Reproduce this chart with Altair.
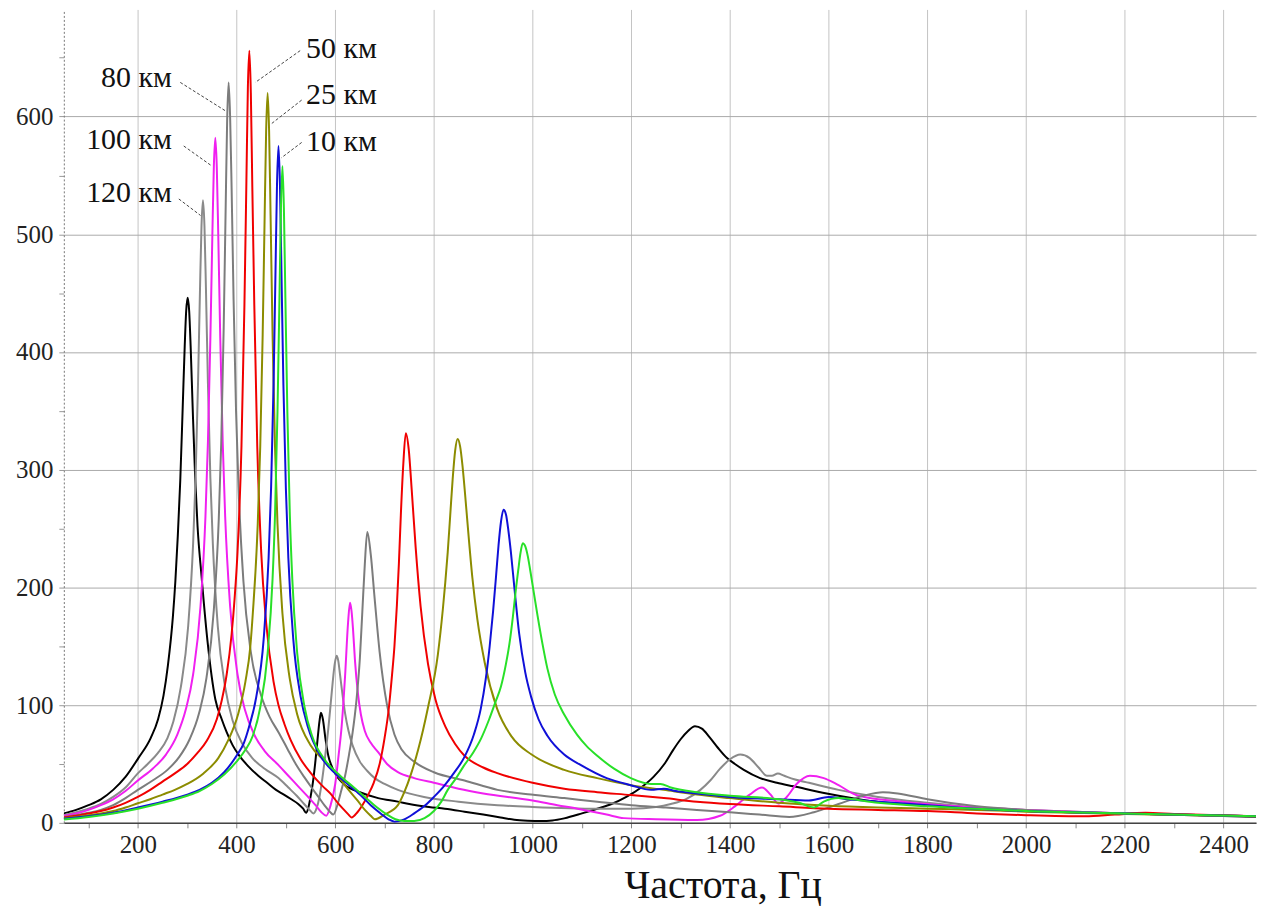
import altair as alt
import pandas as pd

# ---- curve data (frequency Hz, amplitude) ----
black = [(50, 8), (75, 11), (100, 15), (125, 20), (150, 28), (175, 39), (201, 55), (226, 72), (241, 88),
         (252, 108), (261, 134), (271, 175), (276, 205), (281, 244), (286, 291), (291, 354), (295, 405),
         (298, 435), (301, 446), (304, 435), (307, 405), (311, 354), (316, 295), (321, 252), (329, 210),
         (341, 155), (357, 105), (370, 88), (380, 77), (392, 66), (404, 58), (424, 48), (444, 40),
         (462, 34), (480, 28), (496, 24), (511, 20), (525, 16), (535, 12), (541, 8.6), (545, 12),
         (550, 22), (555, 35), (560, 53), (564, 70), (568, 86), (571, 93.5), (575, 88), (580, 72),
         (586, 57), (593, 48), (600, 42), (610, 36), (620, 32), (650, 26), (687, 21), (727, 18),
         (750, 16), (790, 13.5), (822, 12), (862, 9.5), (900, 7), (935, 4.5), (963, 2.6), (990, 1.8),
         (1017, 1.5), (1040, 2), (1064, 3.8), (1100, 8), (1131, 12), (1160, 16), (1190, 22), (1220, 30),
         (1245, 39), (1267, 50), (1285, 62), (1300, 71), (1315, 78), (1329, 82), (1343, 80), (1358, 73),
         (1375, 64), (1394, 55), (1410, 50), (1428, 45), (1461, 38), (1495, 34), (1529, 31), (1596, 25),
         (1697, 18), (1800, 15), (1899, 12), (2000, 10), (2200, 8), (2466, 5)]

gray_120 = [(50, 6.5), (75, 9), (100, 12), (125, 16), (150, 22), (175, 30), (200, 42), (220, 50), (240, 59),
            (260, 72), (272, 86), (287, 115), (302, 167), (312, 237), (317, 293), (322, 374), (326, 454),
            (329, 507), (332, 529), (335, 507), (338, 454), (342, 374), (347, 293), (352, 237), (362, 167),
            (377, 115), (392, 87), (412, 67), (432, 55), (457, 46), (485, 38), (505, 30), (522, 23),
            (537, 16), (548, 11), (556, 8), (562, 12), (568, 22), (574, 38), (580, 58), (586, 80),
            (591, 102), (595, 120), (599, 135), (603, 142), (606, 138), (610, 125), (615, 108), (620, 93),
            (627, 78), (635, 66), (650, 52), (665, 44), (680, 38), (700, 33), (727, 28), (780, 22),
            (850, 18), (929, 15), (1000, 13.5), (1131, 12), (1200, 12), (1250, 13.5), (1280, 16),
            (1310, 20), (1340, 28), (1360, 36), (1380, 46), (1400, 54), (1421, 58), (1440, 55), (1458, 47),
            (1475, 40), (1485, 40), (1497, 42), (1510, 40), (1530, 37), (1560, 34), (1620, 28), (1700, 22),
            (1800, 17), (1900, 13), (2000, 11), (2200, 8), (2466, 5.5)]

magenta_100 = [(50, 6), (75, 8), (100, 11), (125, 15), (150, 20), (175, 27), (200, 36), (230, 46), (257, 58),
               (280, 75), (297, 96), (312, 126), (327, 184), (337, 260), (342, 323), (347, 412), (351, 499),
               (354, 557), (357, 582), (360, 557), (363, 499), (367, 412), (372, 323), (377, 260), (387, 184),
               (402, 126), (417, 96), (437, 74), (457, 61), (485, 49), (505, 40), (525, 31), (545, 22),
               (560, 15), (572, 9), (582, 6), (590, 14), (600, 33), (607, 58), (613, 82), (620, 125),
               (626, 170), (630, 187), (633, 180), (636, 165), (640, 138), (646, 110), (652, 92), (660, 78),
               (672, 68), (687, 60), (705, 50), (727, 43), (760, 38), (800, 34), (850, 29), (900, 25),
               (1000, 19), (1050, 15), (1091, 12), (1150, 7), (1185, 4), (1250, 3), (1333, 2.4), (1380, 6),
               (1410, 14), (1440, 24), (1465, 30), (1482, 24), (1498, 16.5), (1515, 22), (1535, 33),
               (1562, 40), (1590, 38), (1620, 32), (1657, 23.5), (1750, 18), (1859, 14), (2000, 11),
               (2200, 8), (2466, 5.5)]

gray_80 = [(50, 5), (75, 6.5), (100, 8.5), (125, 11), (150, 15), (175, 21), (200, 28), (230, 36), (260, 45),
           (284, 56), (305, 71), (324, 93), (339, 123), (354, 181), (364, 258), (369, 323), (374, 421),
           (378, 523), (381, 597), (384, 629), (387, 600), (390, 540), (394, 445), (399, 350), (404, 285),
           (414, 205), (429, 145), (450, 108), (467, 90), (485, 77), (503, 63), (520, 50), (537, 39),
           (552, 30), (566, 22), (578, 15), (590, 9), (596, 7), (605, 16), (612, 27), (620, 40), (628, 58),
           (635, 76), (643, 104), (650, 140), (655, 180), (660, 220), (665, 247), (672, 228), (680, 190),
           (690, 145), (705, 100), (720, 75), (735, 62), (760, 52), (800, 43), (862, 36), (929, 28),
           (997, 24), (1064, 21), (1131, 18), (1200, 15), (1270, 13), (1333, 11), (1400, 9), (1460, 7),
           (1520, 5), (1570, 9), (1620, 16), (1670, 23), (1710, 26), (1740, 25), (1800, 20), (1900, 14),
           (2000, 11), (2200, 8), (2466, 5.5)]

red_50 = [(50, 4.5), (75, 6), (100, 8), (125, 10), (150, 13), (175, 17), (200, 22), (225, 28), (250, 35),
          (275, 42), (300, 50), (320, 59), (340, 70), (360, 88), (370, 104), (380, 126), (390, 160),
          (396, 190), (402, 230), (410, 320), (416, 440), (420, 545), (423, 625), (426, 656), (429, 620),
          (432, 540), (436, 440), (442, 320), (450, 230), (460, 170), (475, 120), (485, 100), (497, 84),
          (510, 70), (530, 54), (551, 42), (575, 31), (590, 25), (605, 17), (618, 11), (627, 7), (633, 4.5),
          (645, 9), (655, 15), (667, 24), (678, 34), (690, 50), (700, 72), (708, 95), (715, 125), (720, 150),
          (725, 185), (729, 220), (733, 262), (738, 305), (743, 331), (749, 317), (755, 283), (763, 234),
          (773, 184), (788, 135), (803, 105), (823, 82), (843, 67), (862, 57), (900, 47), (930, 42),
          (1000, 34), (1064, 29), (1131, 26), (1199, 23.6), (1266, 21), (1333, 18), (1400, 16), (1500, 14),
          (1600, 12), (1700, 11), (1800, 10), (1900, 8), (2000, 6.5), (2120, 5.5), (2180, 7), (2242, 8.5),
          (2300, 7.5), (2466, 5.5)]

olive_25 = [(50, 4), (75, 5), (100, 6.5), (125, 8), (150, 10), (175, 13), (200, 16.6), (225, 20), (250, 24),
            (275, 28), (300, 33), (333, 42), (363, 55), (383, 70), (403, 92), (418, 120), (428, 150),
            (433, 178), (443, 254), (448, 319), (453, 415), (457, 516), (460, 588), (463, 620), (466, 588),
            (469, 516), (473, 415), (478, 319), (483, 254), (493, 178), (508, 122), (523, 92), (550, 66),
            (580, 52), (605, 40), (625, 29), (645, 19), (660, 11), (672, 6), (680, 3), (700, 7), (727, 15),
            (740, 26), (754, 42), (768, 62), (788, 98), (808, 143), (818, 181), (823, 204), (828, 230),
            (833, 261), (838, 292), (843, 316), (848, 326), (853, 320), (858, 303), (863, 280), (868, 255),
            (878, 208), (888, 173), (903, 136), (928, 97), (958, 73), (998, 58), (1064, 45), (1131, 38),
            (1199, 32), (1266, 28), (1333, 24), (1400, 21), (1500, 17), (1600, 14.5), (1700, 13), (1800, 12),
            (1900, 11), (2000, 9.5), (2200, 7.5), (2466, 5.5)]

blue_10 = [(50, 3.4), (100, 5.5), (150, 8.5), (200, 13), (250, 18), (300, 24), (325, 28), (350, 34), (375, 43),
           (400, 57), (415, 68), (425, 81), (440, 107), (455, 156), (465, 225), (470, 284), (475, 372),
           (479, 469), (482, 542), (485, 575), (488, 542), (491, 469), (495, 372), (500, 284), (505, 225),
           (515, 156), (530, 107), (545, 81), (570, 57), (600, 42), (625, 33), (650, 24), (672, 15), (692, 8),
           (708, 3), (720, 1), (740, 3), (760, 8), (780, 14), (800, 22), (820, 31), (840, 42), (862, 56),
           (881, 75), (895, 97), (905, 122), (913, 150), (920, 180), (926, 210), (931, 236), (936, 256),
           (941, 266), (946, 262), (951, 248), (956, 230), (963, 200), (973, 160), (985, 128), (997, 107),
           (1012, 88), (1030, 74), (1064, 58), (1098, 49), (1150, 38), (1199, 32), (1240, 28), (1266, 29),
           (1290, 27), (1333, 25), (1400, 22), (1500, 20), (1560, 19), (1600, 22), (1640, 20), (1700, 18),
           (1800, 15), (1900, 12), (2000, 10), (2200, 8), (2466, 5.5)]

green = [(50, 2.8), (100, 5), (150, 8), (200, 12), (250, 17), (300, 23), (325, 27), (350, 33), (375, 41),
         (400, 52), (418, 62), (433, 74), (448, 98), (463, 144), (473, 207), (478, 262), (483, 349),
         (487, 446), (490, 522), (493, 558), (496, 522), (499, 446), (503, 349), (508, 262), (513, 207),
         (523, 144), (538, 98), (553, 74), (580, 53), (610, 40), (635, 31), (660, 22), (685, 13), (705, 7),
         (722, 3), (740, 1.5), (760, 1.5), (781, 4), (800, 10), (815, 18), (828, 28), (845, 38), (860, 48),
         (880, 60), (896, 72), (912, 88), (925, 103), (936, 116), (946, 135), (953, 152), (960, 175),
         (966, 198), (971, 215), (975, 228), (980, 237.5), (985, 235), (990, 227), (995, 215), (1000, 202),
         (1010, 176), (1020, 152), (1030, 131), (1045, 109), (1064, 92), (1090, 75), (1110, 65), (1131, 57),
         (1165, 46), (1199, 38), (1240, 33), (1259, 33), (1280, 30), (1333, 26), (1400, 23), (1500, 20),
         (1540, 17), (1570, 13), (1590, 18), (1620, 21), (1700, 17), (1800, 14), (1900, 12), (2000, 10),
         (2200, 8), (2466, 5.5)]

series_keys = ["black", "gray_120", "magenta_100", "gray_80", "red_50", "olive_25", "blue_10", "green"]
series_pts = [black, gray_120, magenta_100, gray_80, red_50, olive_25, blue_10, green]
series_colors = ["#000000", "#8a8a8a", "#f020f0", "#7c7c7c", "#f00000", "#8c8c00", "#1010d8", "#28e028"]

# ---- annotations ----
left_labels = ["80 км", "100 км", "120 км"]
left_label_hz = [269, 269, 269]
left_label_val = [633, 580, 535]
right_labels = ["50 км", "25 км", "10 км"]
right_label_hz = [541, 541, 541]
right_label_val = [657, 618, 578]
leader_hz_from = [286, 293, 283, 529, 532, 532]
leader_val_from = [629, 575, 530, 656, 614, 578]
leader_hz_to = [377, 350, 327, 438, 471, 491]
leader_val_to = [605, 558, 516, 629, 594, 565]

x_ticks = list(range(100, 2500, 100))
y_ticks = list(range(0, 700, 50))

rows = []
for key, pts in zip(series_keys, series_pts):
    for i, (f, v) in enumerate(pts):
        rows.append({"series": key, "hz": f, "val": v, "idx": i})
df = pd.DataFrame(rows)

xscale = alt.Scale(domain=[50, 2466], nice=False, zero=False)
yscale = alt.Scale(domain=[0, 691], nice=False, zero=True)

serif = "Liberation Serif"

xaxis = alt.Axis(
    values=x_ticks, format="d",
    labelExpr="datum.value % 200 === 0 ? datum.label : ''",
    gridOpacity={"condition": {"test": "datum.value % 200 === 0", "value": 1}, "value": 0},
    gridColor="#c4c4c4", gridWidth=1,
    domainColor="#444444", domainWidth=1.5,
    tickColor="#888888", tickSize=5,
    labelFont=serif, labelFontSize=25, labelColor="#222222", labelPadding=5,
    title="Частота, Гц", titleFont=serif, titleFontSize=40, titleFontWeight="normal",
    titleColor="#111111", titleX=661, titleY=75, titleAlign="center", titleBaseline="alphabetic",
)
yaxis = alt.Axis(
    values=y_ticks, format="d",
    labelExpr="datum.value % 100 === 0 ? datum.label : ''",
    gridOpacity={"condition": {"test": "datum.value % 100 === 0", "value": 1}, "value": 0},
    gridColor="#ababab", gridWidth=1,
    domainColor="#777777", domainDash=[2, 2], domainWidth=1,
    tickColor="#999999", tickSize=5,
    labelFont=serif, labelFontSize=25, labelColor="#222222", labelPadding=6,
    title=None,
)

lines = alt.Chart(df).mark_line(strokeWidth=2, interpolate="monotone", clip=True).encode(
    x=alt.X("hz:Q", scale=xscale, axis=xaxis),
    y=alt.Y("val:Q", scale=yscale, axis=yaxis),
    color=alt.Color("series:N", scale=alt.Scale(domain=series_keys, range=series_colors), legend=None),
    order=alt.Order("idx:Q"),
)

leader_df = pd.DataFrame({"x1": leader_hz_from, "y1": leader_val_from,
                          "x2": leader_hz_to, "y2": leader_val_to})
leaders = alt.Chart(leader_df).mark_rule(strokeDash=[3, 2], strokeWidth=1, color="#444444").encode(
    x=alt.X("x1:Q", scale=xscale), x2="x2:Q",
    y=alt.Y("y1:Q", scale=yscale), y2="y2:Q",
)

ldf = pd.DataFrame({"t": left_labels, "x": left_label_hz, "y": left_label_val})
rdf = pd.DataFrame({"t": right_labels, "x": right_label_hz, "y": right_label_val})
ltext = alt.Chart(ldf).mark_text(font=serif, fontSize=30, align="right", baseline="middle", color="#111111").encode(
    x=alt.X("x:Q", scale=xscale), y=alt.Y("y:Q", scale=yscale), text="t:N")
rtext = alt.Chart(rdf).mark_text(font=serif, fontSize=30, align="left", baseline="middle", color="#111111").encode(
    x=alt.X("x:Q", scale=xscale), y=alt.Y("y:Q", scale=yscale), text="t:N")

chart = alt.layer(lines, leaders, ltext, rtext).properties(
    width=1196, height=816,
    autosize=alt.AutoSizeParams(type="none"),
    padding={"left": 56, "top": 0, "right": 4, "bottom": 84},
    background="white",
).configure_view(stroke="transparent")

chart.save("out.html", embed_options={"renderer": "svg", "actions": False})
